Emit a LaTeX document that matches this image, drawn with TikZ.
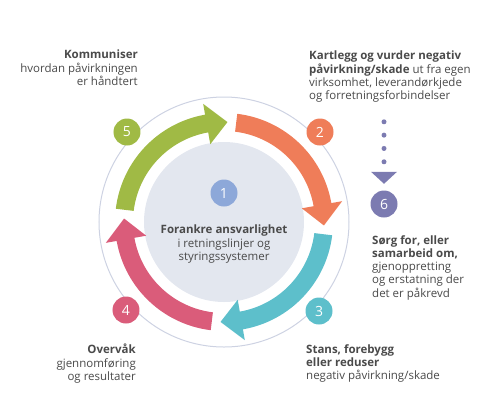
\documentclass[tikz,border=0pt]{standalone}
\usepackage{fontspec}
\setmainfont{Open Sans}
\usepackage{tikz}
\usetikzlibrary{positioning}
\definecolor{leafgreen}{HTML}{A0BA45}
\definecolor{coral}{HTML}{EF7D59}
\definecolor{lagoon}{HTML}{5DBFCB}
\definecolor{rose}{HTML}{DA5C7A}
\definecolor{skyblue}{HTML}{8DA8D9}
\definecolor{plum}{HTML}{7C7BB1}
\definecolor{discgray}{HTML}{E3E7EF}
\definecolor{ringline}{HTML}{CDD2E2}
\definecolor{inkgray}{HTML}{4A4A4A}

\tikzset{
  numdot/.style={circle,fill=#1,text=white,minimum size=27pt,inner sep=0pt,
    font=\fontsize{14}{14}\selectfont},
  steptext/.style={inner sep=0pt,text=inkgray,font=\fontsize{11.5}{13.3}\selectfont},
}

\begin{document}
\begin{tikzpicture}[x=1pt,y=1pt]
  \useasboundingbox (-224,-186) rectangle (268,222);
  \draw[ringline,line width=1pt] (0,0) circle (125pt);
  \fill[discgray] (0,0) circle (80pt);
  \foreach \clr/\s in {leafgreen/180,coral/90,lagoon/0,rose/-90}
    \fill[\clr] (\s-7:109pt) arc[start angle=\s-7,end angle=\s-80,radius=109pt]
      -- (\s-80:120pt) -- (\s-92:100pt) -- (\s-80:79pt) -- (\s-80:91pt)
      arc[start angle=\s-80,end angle=\s-7,radius=91pt] -- cycle;
  \node[numdot=skyblue] (n1) at (0,29) {1};
  \node[numdot=coral] (n2) at (96,90) {2};
  \node[numdot=lagoon] (n3) at (95,-89) {3};
  \node[numdot=rose] (n4) at (-98,-88) {4};
  \node[numdot=leafgreen] (n5) at (-97,90) {5};
  \node[numdot=plum] (n6) at (160,18) {6};
  \coordinate (tri) at ([yshift=6.5pt]n6.north);
  \coordinate (dbot) at ([yshift=22pt]tri);
  \coordinate (dtop) at ([yshift=40pt]dbot);
  \draw[plum,line width=5pt,line cap=round,dash pattern=on 0pt off 13.33pt] (dtop) -- (dbot);
  \fill[plum] (tri) -- ++(-13pt,12pt) -- ++(26pt,0) -- cycle;
  \node[steptext,anchor=north,align=center] (t1) at (0,-3)
    {\textbf{Forankre ansvarlighet}\\i retningslinjer og\\styringssystemer};
  \node[steptext,anchor=north west,align=left] (t2) at (85,171)
    {\textbf{Kartlegg og vurder negativ}\\\textbf{påvirkning/skade} ut fra egen\\virksomhet, leverandørkjede\\og forretningsforbindelser};
  \node[steptext,anchor=north west,align=left] (t3) at (82,-122)
    {\textbf{Stans, forebygg}\\\textbf{eller reduser}\\negativ påvirkning/skade};
  \node[steptext,anchor=north east,align=right] (t4) at (-88,-122)
    {\textbf{Overvåk}\\gjennomføring\\og resultater};
  \node[steptext,anchor=north east,align=right] (t5) at (-86,172)
    {\textbf{Kommuniser}\\hvordan påvirkningen\\er håndtert};
  \node[steptext,anchor=north west,align=left] (t6) at (148,-13)
    {\textbf{Sørg for, eller}\\\textbf{samarbeid om,}\\gjenoppretting\\og erstatning der\\det er påkrevd};
\end{tikzpicture}
\end{document}
